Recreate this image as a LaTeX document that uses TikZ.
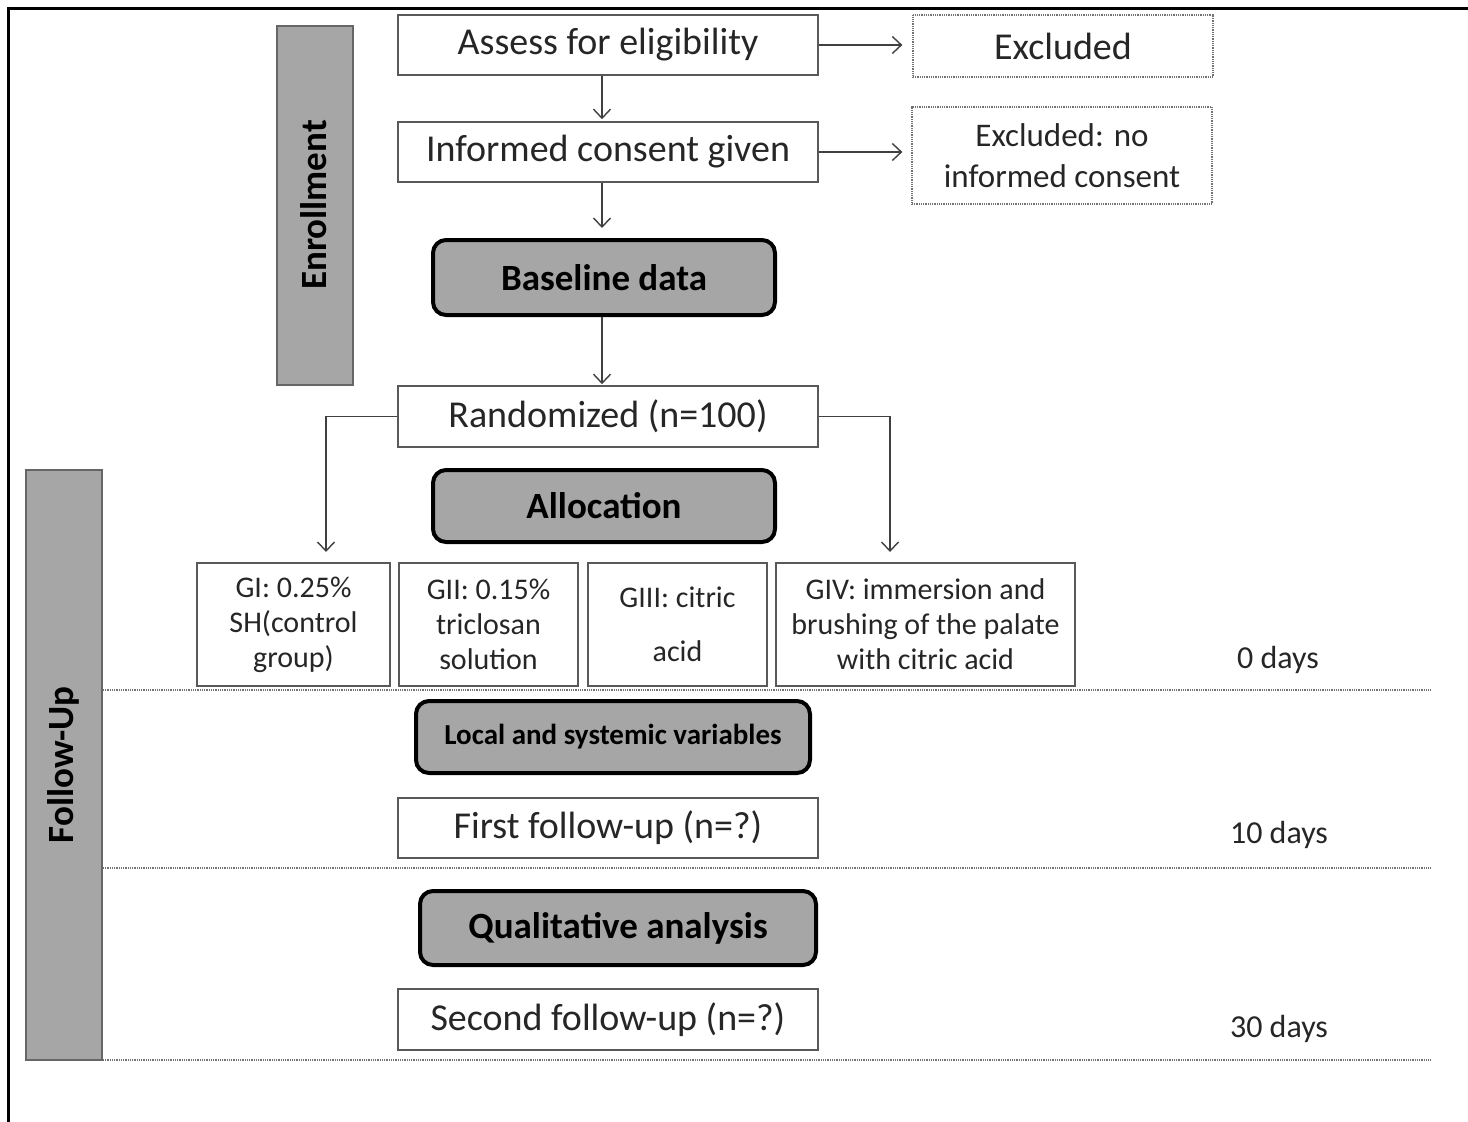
\documentclass[tikz,border=0pt]{standalone}
\usepackage{fontspec}
\setmainfont{Carlito}
\usetikzlibrary{arrows.meta}
\definecolor{bargray}{HTML}{A6A6A6}
\definecolor{txt}{HTML}{262626}
\begin{document}
\begin{tikzpicture}[x=1pt,y=-1pt,
  wbox/.style={draw=black!65, line width=1.6pt, fill=white, text=txt, inner sep=0pt, align=center, font=\fontsize{38}{46}\selectfont},
  xbox/.style={draw=black!55, line width=1.3pt, dash pattern=on 1pt off 0.8pt, fill=white, text=txt, inner sep=0pt, align=center},
  gbox/.style={draw=black!65, line width=1.6pt, fill=white, text=txt, inner sep=0pt, align=center, font=\fontsize{30}{35}\selectfont},
  rbox/.style={draw=black, line width=4pt, rounded corners=13pt, fill=bargray, text=black, inner sep=0pt, align=center, font=\bfseries\fontsize{37}{44}\selectfont},
  bar/.style={draw=black!60, line width=1.4pt, fill=bargray, inner sep=0pt},
  barlabel/.style={rotate=90, text=black, font=\bfseries\fontsize{37}{44}\selectfont},
  arr/.style={draw=black!75, line width=1.4pt, -{Straight Barb[length=9pt,width=17pt,line width=1.4pt]}},
  sep/.style={draw=black!55, line width=1.6pt, dash pattern=on 1pt off 0.8pt},
  days/.style={text=txt, font=\fontsize{32}{38}\selectfont}
]
\useasboundingbox (0,0) rectangle (1468,1122);
\fill[white] (0,0) rectangle (1468,1122);
% outer frame
\draw[line width=3pt, black] (8,1122) -- (8,8.5) -- (1468,8.5);

% side bars
\node[bar, minimum width=76pt, minimum height=359pt] (enrollbar) at (315,205.5) {};
\node[barlabel] (enrolltxt) at (314,205) {Enrollment};
\node[bar, minimum width=76pt, minimum height=590pt] (followbar) at (64,765) {};
\node[barlabel] (followtxt) at (63,765) {Follow-Up};

% separators
\draw[sep] (103,690) -- (1430,690);
\draw[sep] (103,868) -- (1430,868);
\draw[sep] (103,1060) -- (1430,1060);

% enrollment boxes
\node[wbox, minimum width=420pt, minimum height=60pt] (assess) at (608,45) {Assess for eligibility};
\node[xbox, minimum width=300pt, minimum height=62pt, font=\fontsize{38}{46}\selectfont] (excl1) at (1063,46) {Excluded};
\node[wbox, minimum width=420pt, minimum height=60pt] (consent) at (608,152) {Informed consent given};
\node[xbox, minimum width=300pt, minimum height=97pt, font=\fontsize{33}{41}\selectfont] (excl2) at (1062,155.5) {Excluded: no\\informed consent};
\node[rbox, minimum width=342pt, minimum height=75pt] (baseline) at (604,277.5) {Baseline data};
\node[wbox, minimum width=420pt, minimum height=61pt] (rand) at (608,416.5) {Randomized (n=100)};
\node[rbox, minimum width=342pt, minimum height=72pt] (alloc) at (604,506) {Allocation};

% groups
\node[gbox, minimum width=193pt, minimum height=123pt] (g1) at (293.5,624.5) {GI: 0.25\%\\SH(control\\group)};
\node[gbox, minimum width=179pt, minimum height=123pt] (g2) at (488.5,624.5) {GII: 0.15\%\\triclosan\\solution};
\node[gbox, minimum width=179pt, minimum height=123pt] (g3) at (677.5,624.5) {GIII: citric\\[19pt]acid};
\node[gbox, minimum width=299pt, minimum height=123pt] (g4) at (925.5,624.5) {GIV: immersion and\\brushing of the palate\\with citric acid};

% follow-up
\node[rbox, minimum width=394pt, minimum height=72pt, font=\bfseries\fontsize{29}{35}\selectfont] (local) at (613,737) {Local and systemic variables};
\node[wbox, minimum width=420pt, minimum height=60pt] (first) at (608,828) {First follow-up (n=?)};
\node[rbox, minimum width=396pt, minimum height=74pt] (qual) at (618,928) {Qualitative analysis};
\node[wbox, minimum width=420pt, minimum height=61pt] (second) at (608,1019.5) {Second follow-up (n=?)};

% day labels
\node[days] (d0) at (1278,660) {0 days};
\node[days] (d10) at (1279,835) {10 days};
\node[days] (d30) at (1279,1029) {30 days};

% connectors
\draw[arr, shorten >=2pt] ([xshift=-6pt]assess.south) -- ([xshift=-6pt]consent.north);
\draw[arr, shorten >=10pt] ([xshift=-6pt]consent.south) -- ([xshift=-2pt]baseline.north);
\draw[arr, shorten >=1pt] ([xshift=-2pt]baseline.south) -- ([xshift=-6pt]rand.north);
\draw[arr, shorten >=10pt] (assess.east) -- (assess.east -| excl1.west);
\draw[arr, shorten >=9pt] (consent.east) -- (consent.east -| excl2.west);
\coordinate (la) at (326,552);
\coordinate (ra) at (890,552);
\draw[arr] (rand.west) -| (la);
\draw[arr] (rand.east) -| (ra);
\end{tikzpicture}
\end{document}
